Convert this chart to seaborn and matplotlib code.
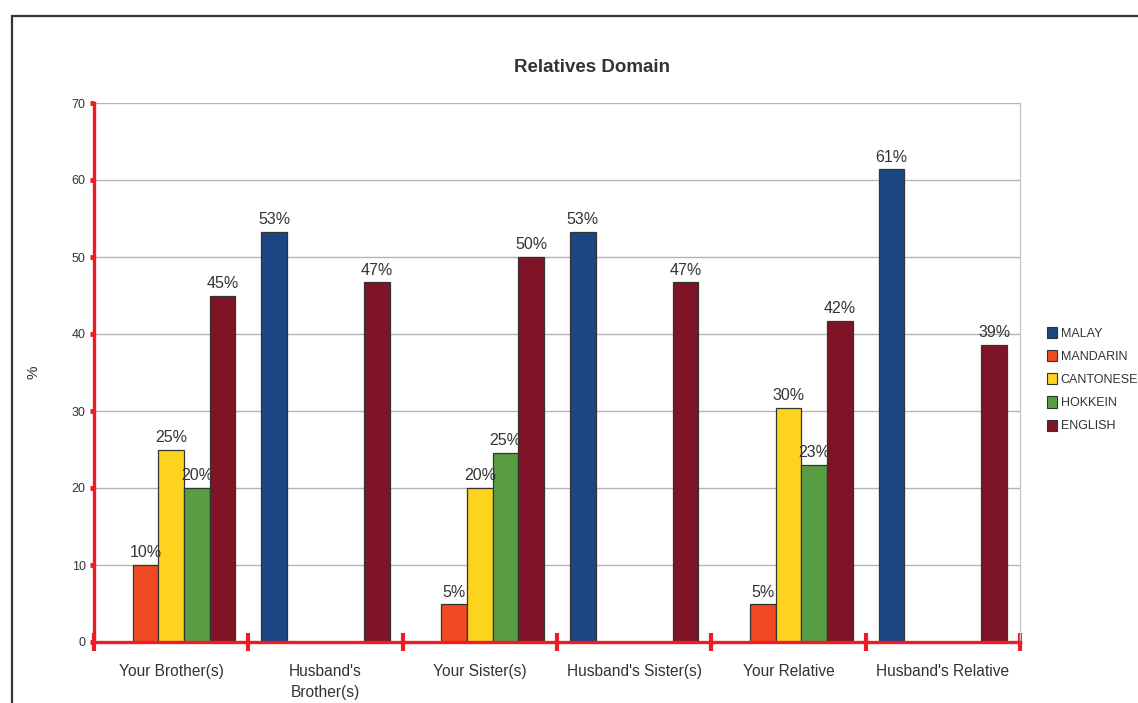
import matplotlib
matplotlib.use("Agg")
import matplotlib.pyplot as plt
import matplotlib.patches as mpatches
import seaborn as sns
import pandas as pd
import numpy as np

categories = ["Your Brother(s)", "Husband's\nBrother(s)", "Your Sister(s)",
              "Husband's Sister(s)", "Your Relative", "Husband's Relative"]
languages = ["MALAY", "MANDARIN", "CANTONESE", "HOKKEIN", "ENGLISH"]
malay = [0, 53.3, 0, 53.3, 0, 61.4]
mandarin = [10, 0, 4.9, 0, 4.9, 0]
cantonese = [25, 0, 20, 0, 30.4, 0]
hokkein = [20, 0, 24.6, 0, 23, 0]
english = [45, 46.7, 50, 46.7, 41.7, 38.6]
colors = ["#1b4682", "#f04a23", "#fed31e", "#589d44", "#7e1425"]

series = [malay, mandarin, cantonese, hokkein, english]
rows = []
for lang, vals in zip(languages, series):
    for cat, v in zip(categories, vals):
        rows.append({"cat": cat, "lang": lang, "pct": v})
df = pd.DataFrame(rows)

sns.set_style("white")
FONT = ["Liberation Sans", "DejaVu Sans"]
plt.rcParams["font.family"] = FONT

fig = plt.figure(figsize=(11.38, 7.03), dpi=100)
ax = fig.add_axes([94/1138, 1-642/703, (1020-94)/1138, (642-103)/703])

sns.barplot(data=df, x="cat", y="pct", hue="lang", hue_order=languages,
            order=categories, palette=colors, saturation=1, width=0.833,
            errorbar=None, edgecolor="#333333", linewidth=0.9, ax=ax,
            legend=False, zorder=3)

for cont, lang in zip(ax.containers, languages):
    for bar in cont:
        h = bar.get_height()
        if h > 0:
            ax.text(bar.get_x() + bar.get_width()/2, h + 0.6, f"{h:.0f}%",
                    ha="center", va="bottom", fontsize=11.5, color="#333333",
                    zorder=5)
        else:
            bar.set_visible(False)

ax.set_ylim(0, 70)
ax.set_xlim(-0.5, 5.5)
ax.set_yticks(np.arange(0, 71, 10))
ax.yaxis.grid(True, color="#b3b3b3", linewidth=1, zorder=0)
ax.set_axisbelow(True)
ax.set_xlabel("")
ax.set_ylabel("%", fontsize=11, color="#333333")
ax.yaxis.set_label_coords((40-94)/926, 0.5)

for s in ["left", "bottom"]:
    ax.spines[s].set_color("#ee1c25")
    ax.spines[s].set_linewidth(2.4)
    ax.spines[s].set_zorder(6)
ax.spines["top"].set_visible(False)
ax.spines["right"].set_color("#c8c8c8")
ax.spines["right"].set_linewidth(1)

ax.tick_params(axis="y", colors="#ee1c25", direction="out", length=3,
               width=3.5, labelsize=9, labelcolor="#333333", pad=3, left=True)
ax.set_xticks(np.arange(-0.5, 6, 1), minor=True)
ax.tick_params(axis="x", which="minor", colors="#ee1c25", direction="inout",
               length=13, width=3, bottom=True)
ax.tick_params(axis="x", which="major", length=0, labelsize=11.2,
               labelcolor="#333333", pad=16)
for lbl in ax.get_xticklabels():
    lbl.set_linespacing(1.45)

fig.text(592/1138, 1-67/703, "Relatives Domain", ha="center", va="center",
         fontsize=13.5, fontweight="bold", color="#333333")

handles = [mpatches.Patch(facecolor=c, edgecolor="#333333", linewidth=0.8)
           for c in colors]
fig.legend(handles, languages, loc="upper left",
           bbox_to_anchor=(1047/1138, 1-327/703), frameon=False,
           fontsize=9, handlelength=0.8, handleheight=1.0,
           handletextpad=0.3, labelspacing=0.82, borderaxespad=0,
           borderpad=0, labelcolor="#333333")

border = mpatches.Rectangle((12/1138, -0.1), 1.2, 1.1 - 16/703,
                            transform=fig.transFigure, fill=False,
                            edgecolor="#333333", linewidth=1.6)
fig.patches.append(border)

fig.savefig("out.png", dpi=100)
